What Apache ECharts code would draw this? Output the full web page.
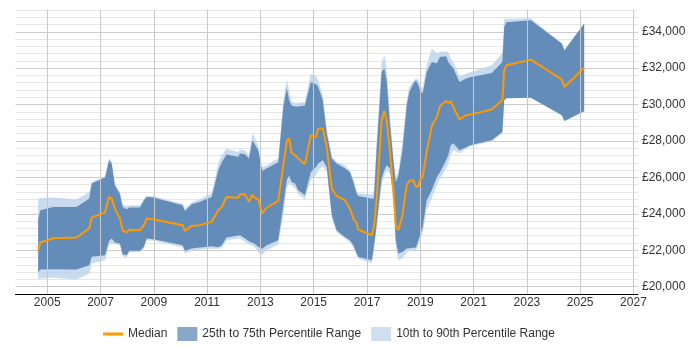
<!DOCTYPE html>
<html>
<head>
<meta charset="utf-8">
<script src="https://cdn.jsdelivr.net/npm/echarts@6/dist/echarts.min.js"></script>
<style>html,body{margin:0;padding:0;background:#fff}#chart{width:700px;height:350px}</style>
</head>
<body>
<div id="chart"></div>
<script>
// Decimal years of the sampled points
const years = [
  2004.66, 2004.74, 2005.23, 2006.10, 2006.58, 2006.67, 2007.17, 2007.32, 2007.42, 2007.54,
  2007.73, 2007.83, 2007.98, 2008.08, 2008.48, 2008.63, 2008.73, 2008.98, 2010.08, 2010.17,
  2010.42, 2010.73, 2011.17, 2011.42, 2011.55, 2011.73, 2012.17, 2012.23, 2012.42, 2012.57,
  2012.70, 2012.77, 2012.92, 2013.07, 2013.24, 2013.67, 2013.86, 2013.99, 2014.08, 2014.17,
  2014.30, 2014.42, 2014.67, 2014.89, 2014.96, 2015.09, 2015.17, 2015.34, 2015.49, 2015.68,
  2015.86, 2016.17, 2016.36, 2016.49, 2016.61, 2016.67, 2017.18, 2017.26, 2017.36, 2017.55,
  2017.65, 2017.74, 2017.86, 2017.99, 2018.08, 2018.18, 2018.33, 2018.49, 2018.59, 2018.74,
  2018.84, 2018.93, 2018.99, 2019.09, 2019.24, 2019.43, 2019.62, 2019.74, 2019.97, 2020.05,
  2020.14, 2020.24, 2020.47, 2020.72, 2020.87, 2021.68, 2022.08, 2022.15, 2022.24, 2023.15,
  2024.31, 2024.41, 2025.15
];
const median = [
  21970, 22430, 22660, 22700, 23200, 23800, 24070, 24930, 24840, 24290,
  23740, 23100, 22980, 23120, 23100, 23380, 23740, 23710, 23380, 23060,
  23340, 23380, 23560, 24200, 24380, 24930, 24880, 25080, 25080, 24660,
  25060, 24900, 24800, 24020, 24350, 24710, 26670, 28000, 28140, 27350,
  27220, 27040, 26730, 28320, 28320, 28220, 28690, 28690, 27680, 25390,
  24970, 24750, 24290, 23740, 23500, 23140, 22830, 23280, 24750, 29140,
  29650, 29140, 27400, 25300, 23380, 23100, 23930, 25570, 25810, 25850,
  25480, 25520, 25850, 26030, 27400, 28810, 29320, 29910, 30200, 30090,
  30180, 29870, 29180, 29420, 29450, 29730, 30240, 31890, 32160, 32470,
  31380, 30970, 32030
];
const p75 = [
  23700, 24200, 24380, 24380, 24840, 25670, 26000, 26940, 26760, 25570,
  25080, 24380, 24250, 24350, 24350, 24750, 24930, 24900, 24470, 24160,
  24530, 24670, 24930, 26400, 26840, 27260, 27130, 27310, 27270, 27040,
  28040, 27990, 27490, 26360, 26510, 26840, 29870, 30900, 30240, 29950,
  29900, 29900, 29950, 31230, 31230, 31120, 30970, 30240, 28410, 27040,
  26760, 26510, 26290, 25750, 25120, 24980, 24830, 24860, 27490, 31790,
  32000, 31340, 28960, 26940, 25740, 26120, 27490, 29960, 30690, 31160,
  31340, 31060, 30790, 30610, 31790, 32340, 32270, 32620, 32650, 32340,
  32160, 32000, 31240, 31430, 31500, 31740, 32340, 34260, 34520, 34630,
  33350, 32980, 34450
];
const p90 = [
  24800, 24860, 24900, 24790, 25200, 25750, 26070, 27050, 26840, 25630,
  25190, 24530, 24420, 24470, 24470, 24800, 25000, 24970, 24560, 24250,
  24640, 24800, 25130, 26780, 27220, 27580, 27380, 27530, 27490, 27220,
  28410, 28260, 27710, 26580, 26670, 27050, 30240, 31380, 30790, 30150,
  30100, 30100, 30150, 31700, 31700, 31560, 31340, 30510, 28700, 27160,
  26860, 26670, 26400, 25900, 25300, 25130, 25060, 25300, 28040, 32340,
  32710, 32000, 29420, 27220, 25960, 26400, 27930, 30240, 31010, 31280,
  31450, 31340, 31120, 30880, 32160, 33080, 32820, 32890, 32930, 32870,
  32550, 32330, 31560, 31700, 31780, 32160, 32840, 34720, 34720, 34740,
  33350, 32980, 34450
];
const p25 = [
  20760, 20940, 20960, 20940, 21180, 21640, 21730, 22510, 22650, 22430,
  22370, 21780, 21730, 21970, 21970, 22190, 22650, 22610, 22280, 21970,
  22100, 22150, 22220, 22170, 22280, 22700, 22750, 22830, 22660, 22500,
  22420, 22370, 22200, 22090, 22280, 22550, 24470, 25850, 26120, 25750,
  25670, 25300, 25020, 26290, 26400, 26580, 26760, 26940, 26580, 23930,
  23100, 22730, 22550, 22280, 21840, 21640, 21450, 22190, 23380, 25960,
  26400, 26670, 26510, 25020, 22550, 21820, 21910, 22100, 22110, 22140,
  22150, 22550, 22830, 23280, 24750, 25300, 26010, 26290, 26940, 27220,
  27770, 27880, 27490, 27660, 27770, 28040, 28500, 30240, 30350, 30370,
  29420, 29100, 29630
];
const p10 = [
  20400, 20450, 20490, 20400, 20720, 21270, 21450, 22280, 22370, 22330,
  22280, 21670, 21620, 21890, 21890, 22110, 22550, 22530, 22170, 21820,
  21980, 22030, 22090, 22090, 22140, 22550, 22580, 22660, 22470, 22330,
  22250, 22200, 21890, 21760, 22000, 22330, 23930, 25410, 25680, 25570,
  25410, 25080, 24800, 25850, 25960, 26120, 26400, 26620, 26290, 23760,
  22990, 22640, 22440, 22170, 21730, 21540, 21290, 22000, 23210, 25600,
  26100, 26400, 26200, 24700, 22110, 21450, 21560, 21890, 21980, 22000,
  22000, 22280, 22550, 22940, 24200, 24860, 25570, 25960, 26510, 26780,
  27220, 27490, 27330, 27550, 27710, 27990, 28430, 30240, 30350, 30370,
  29420, 29100, 29630
];
const xTickYears = [2005, 2007, 2009, 2011, 2013, 2015, 2017, 2019, 2021, 2023, 2025, 2027];
const yLabelValues = [20000, 22000, 24000, 26000, 28000, 30000, 32000, 34000];
const xRange = [2003.81, 2027.17];

const seriesNames = ['Median', '25th to 75th Percentile Range', '10th to 90th Percentile Range'];
const colMedian = '#ff9900';
const colInner = 'rgba(83,127,175,0.85)';
const colOuter = 'rgba(188,210,234,0.8)';

// rows are [value, year]; encode maps column 1 to x and column 0 to y so stacking acts on y
const rows = (arr) => years.map((y, i) => [arr[i], y]);
const diffRows = (hi, lo) => years.map((y, i) => [hi[i] - lo[i], y]);
const enc = {x: 1, y: 0};

const chart = echarts.init(document.getElementById('chart'), null, {renderer: 'canvas'});
const fmt = (v) => '£' + String(v).replace(/\B(?=(\d{3})+(?!\d))/g, ',');

chart.setOption({
  animation: false,
  textStyle: {fontFamily: 'Liberation Sans, Arial, sans-serif'},
  grid: {left: 15.5, right: 62, top: 9.9, bottom: 56},
  xAxis: {
    type: 'value', min: xRange[0], max: xRange[1],
    axisLine: {show: true, onZero: false, lineStyle: {color: '#000', width: 1}},
    axisTick: {show: false, customValues: xTickYears},
    axisLabel: {customValues: xTickYears, color: '#333', fontSize: 12, margin: 3,
      formatter: (v) => String(Math.round(v))},
    splitLine: {show: false}
  },
  yAxis: {
    type: 'value', position: 'right', min: 19600, max: 35200, interval: 400,
    axisLine: {show: false}, axisTick: {show: false},
    axisLabel: {customValues: yLabelValues, color: '#333', fontSize: 12, margin: 4, formatter: fmt},
    splitLine: {show: true, lineStyle: {color: ['#e6e6e6', '#cccccc', '#e6e6e6', '#e6e6e6', '#e6e6e6'], width: 1}}
  },
  legend: {
    left: 98, top: 322, itemWidth: 20, itemHeight: 14, itemGap: 10,
    textStyle: {color: '#333', fontSize: 12},
    data: [
      {name: seriesNames[0], icon: 'path://M0,0 L20,0 L20,3 L0,3 Z', itemStyle: {color: colMedian}},
      {name: seriesNames[1], icon: 'rect', itemStyle: {color: '#88a7cb'}},
      {name: seriesNames[2], icon: 'rect', itemStyle: {color: '#cfdff0'}}
    ]
  },
  series: [
    {name: 'p10base', type: 'line', stack: 'outer', data: rows(p10), encode: enc, symbol: 'none',
      lineStyle: {width: 0, opacity: 0}, silent: true, z: 1,
      markLine: {silent: true, symbol: 'none', label: {show: false}, animation: false,
        lineStyle: {color: '#c8c8c8', width: 1, type: 'solid'},
        data: xTickYears.map((t) => ({xAxis: t}))}},
    {name: seriesNames[2], type: 'line', stack: 'outer', data: diffRows(p90, p10), encode: enc, symbol: 'none',
      color: colOuter, lineStyle: {width: 0, opacity: 0}, areaStyle: {color: colOuter, opacity: 1}, silent: true, z: 2},
    {name: 'p25base', type: 'line', stack: 'inner', data: rows(p25), encode: enc, symbol: 'none',
      lineStyle: {width: 0, opacity: 0}, silent: true, z: 3},
    {name: seriesNames[1], type: 'line', stack: 'inner', data: diffRows(p75, p25), encode: enc, symbol: 'none',
      color: colInner, lineStyle: {width: 0, opacity: 0}, areaStyle: {color: colInner, opacity: 1}, silent: true, z: 3},
    {name: seriesNames[0], type: 'line', data: rows(median), encode: enc, symbol: 'none',
      color: colMedian, lineStyle: {color: colMedian, width: 2}, z: 5}
  ]
});
</script>
</body>
</html>
